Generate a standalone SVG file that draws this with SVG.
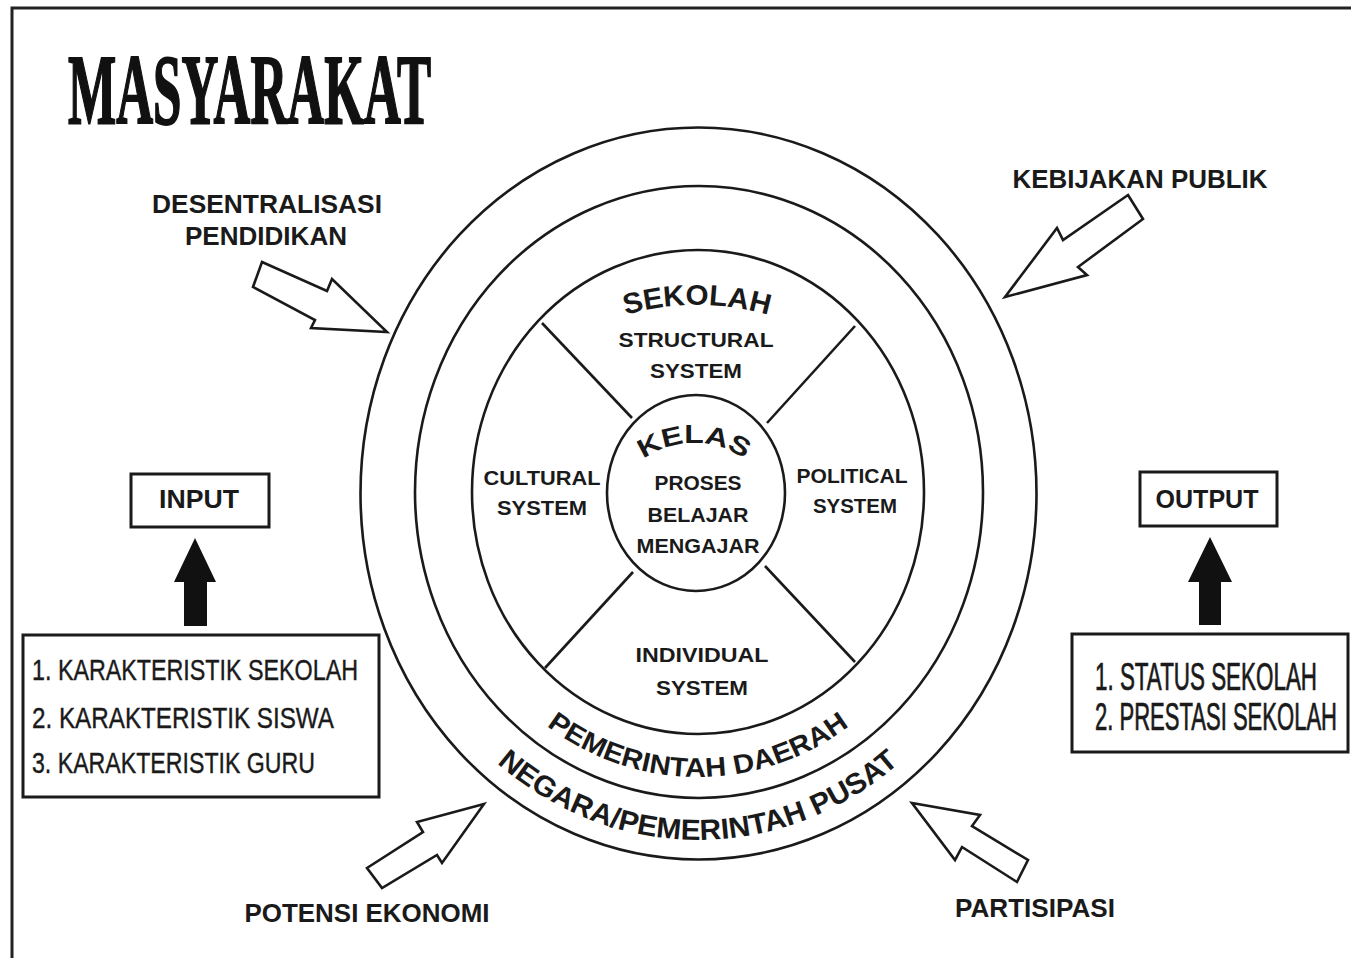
<svg xmlns="http://www.w3.org/2000/svg" width="1351" height="958" viewBox="0 0 1351 958">
  <style>
    .ring { fill: none; stroke: #1a1a1a; stroke-width: 2.6; }
    .div { stroke: #1a1a1a; stroke-width: 2.6; }
    .box { fill: #fff; stroke: #1a1a1a; stroke-width: 3; }
    .hollow { fill: #fff; stroke: #1a1a1a; stroke-width: 2.6; stroke-linejoin: miter; }
    .solid { fill: #111; stroke: none; }
    .lbl { font-family: "Liberation Sans", Arial, sans-serif; font-weight: bold; fill: #1a1a1a; }
    .lst { font-family: "Liberation Sans Narrow", "Liberation Sans", Arial, sans-serif; font-weight: normal; fill: #1a1a1a; stroke: #1a1a1a; stroke-width: 0.4; }
    .ttl { font-family: "Liberation Serif", "Times New Roman", serif; font-weight: bold; fill: #111; stroke: #111; stroke-width: 2; }
  </style>
  <defs>
    <path id="arcSekolah" d="M437,565 A260,260 0 0 1 957,565"/>
    <path id="arcKelas" d="M606,531 A88,88 0 0 1 782,531"/>
    <path id="arcDaerah" d="M433,492 A265,285 0 0 0 963,492"/>
    <path id="arcPusat" d="M377,492 A321,348 0 0 0 1019,492"/>
  </defs>

  <rect width="1351" height="958" fill="#fff"/>

  <!-- frame -->
  <path d="M12,958 V8 H1351" fill="none" stroke="#222" stroke-width="3"/>

  <!-- title -->
  <g id="title">
    <text class="ttl" x="68" y="123" font-size="100" textLength="363" lengthAdjust="spacingAndGlyphs">MASYARAKAT</text>
  </g>

  <!-- concentric system rings -->
  <g id="rings">
    <ellipse class="ring" cx="698.5" cy="493.5" rx="338" ry="366"/>
    <ellipse class="ring" cx="699" cy="492" rx="284" ry="306"/>
    <ellipse class="ring" cx="698" cy="492" rx="226" ry="242"/>
    <ellipse class="ring" cx="696" cy="493" rx="89" ry="98"/>
    <line class="div" x1="542" y1="323" x2="632" y2="418"/>
    <line class="div" x1="855" y1="326" x2="767" y2="423"/>
    <line class="div" x1="545" y1="668" x2="633" y2="572"/>
    <line class="div" x1="855" y1="662" x2="765" y2="566"/>
  </g>

  <g id="sekolah">
    <text class="lbl" font-size="29"><textPath href="#arcSekolah" startOffset="50%" text-anchor="middle" textLength="145" lengthAdjust="spacingAndGlyphs">SEKOLAH</textPath></text>
  </g>
  <g id="structural">
    <text class="lbl" x="696" y="347" font-size="20" text-anchor="middle" textLength="155" lengthAdjust="spacingAndGlyphs">STRUCTURAL</text>
    <text class="lbl" x="696" y="378" font-size="20" text-anchor="middle" textLength="92" lengthAdjust="spacingAndGlyphs">SYSTEM</text>
  </g>
  <g id="cultural">
    <text class="lbl" x="542" y="485" font-size="20" text-anchor="middle" textLength="117" lengthAdjust="spacingAndGlyphs">CULTURAL</text>
    <text class="lbl" x="542" y="515" font-size="20" text-anchor="middle" textLength="90" lengthAdjust="spacingAndGlyphs">SYSTEM</text>
  </g>
  <g id="political">
    <text class="lbl" x="852" y="483" font-size="20" text-anchor="middle" textLength="111" lengthAdjust="spacingAndGlyphs">POLITICAL</text>
    <text class="lbl" x="855" y="513" font-size="20" text-anchor="middle" textLength="84" lengthAdjust="spacingAndGlyphs">SYSTEM</text>
  </g>
  <g id="individual">
    <text class="lbl" x="702" y="662" font-size="20" text-anchor="middle" textLength="133" lengthAdjust="spacingAndGlyphs">INDIVIDUAL</text>
    <text class="lbl" x="702" y="695" font-size="20" text-anchor="middle" textLength="92" lengthAdjust="spacingAndGlyphs">SYSTEM</text>
  </g>
  <g id="kelas">
    <text class="lbl" font-size="26"><textPath href="#arcKelas" startOffset="50%" text-anchor="middle" textLength="108" lengthAdjust="spacingAndGlyphs">KELAS</textPath></text>
    <text class="lbl" x="698" y="490" font-size="20" text-anchor="middle" textLength="87" lengthAdjust="spacingAndGlyphs">PROSES</text>
    <text class="lbl" x="698" y="522" font-size="20" text-anchor="middle" textLength="101" lengthAdjust="spacingAndGlyphs">BELAJAR</text>
    <text class="lbl" x="698" y="553" font-size="20" text-anchor="middle" textLength="123" lengthAdjust="spacingAndGlyphs">MENGAJAR</text>
  </g>
  <g id="pemerintah-daerah">
    <text class="lbl" font-size="27"><textPath href="#arcDaerah" startOffset="50%" text-anchor="middle" textLength="325" lengthAdjust="spacingAndGlyphs">PEMERINTAH DAERAH</textPath></text>
  </g>
  <g id="pemerintah-pusat">
    <text class="lbl" font-size="29"><textPath href="#arcPusat" startOffset="50%" text-anchor="middle" textLength="440" lengthAdjust="spacingAndGlyphs">NEGARA/PEMERINTAH PUSAT</textPath></text>
  </g>

  <!-- external influences -->
  <g id="desentralisasi">
    <text class="lbl" x="267" y="213" font-size="26" text-anchor="middle" textLength="230" lengthAdjust="spacingAndGlyphs">DESENTRALISASI</text>
    <text class="lbl" x="266" y="245" font-size="26" text-anchor="middle" textLength="162" lengthAdjust="spacingAndGlyphs">PENDIDIKAN</text>
  </g>
  <g id="kebijakan">
    <text class="lbl" x="1140" y="188" font-size="25" text-anchor="middle" textLength="255" lengthAdjust="spacingAndGlyphs">KEBIJAKAN PUBLIK</text>
  </g>
  <g id="potensi">
    <text class="lbl" x="367" y="922" font-size="26" text-anchor="middle" textLength="245" lengthAdjust="spacingAndGlyphs">POTENSI EKONOMI</text>
  </g>
  <g id="partisipasi">
    <text class="lbl" x="1035" y="917" font-size="26" text-anchor="middle" textLength="160" lengthAdjust="spacingAndGlyphs">PARTISIPASI</text>
  </g>

  <g id="input">
    <rect class="box" x="131" y="474" width="138" height="53"/>
    <text class="lbl" x="199" y="508" font-size="25" text-anchor="middle" textLength="80" lengthAdjust="spacingAndGlyphs">INPUT</text>
  </g>
  <g id="input-list">
    <rect class="box" x="23" y="635" width="356" height="162"/>
    <text class="lst" x="32" y="680" font-size="30" textLength="326" lengthAdjust="spacingAndGlyphs">1. KARAKTERISTIK SEKOLAH</text>
    <text class="lst" x="32" y="728" font-size="30" textLength="302" lengthAdjust="spacingAndGlyphs">2. KARAKTERISTIK SISWA</text>
    <text class="lst" x="32" y="773" font-size="30" textLength="283" lengthAdjust="spacingAndGlyphs">3. KARAKTERISTIK GURU</text>
  </g>
  <g id="output">
    <rect class="box" x="1140" y="472" width="137" height="54"/>
    <text class="lbl" x="1207" y="508" font-size="25" text-anchor="middle" textLength="103" lengthAdjust="spacingAndGlyphs">OUTPUT</text>
  </g>
  <g id="output-list">
    <rect class="box" x="1072" y="634" width="276" height="118"/>
    <text class="lst" transform="translate(1095,690) scale(1,1.85)" font-size="21" textLength="222" lengthAdjust="spacingAndGlyphs">1. STATUS  SEKOLAH</text>
    <text class="lst" transform="translate(1095,730) scale(1,1.85)" font-size="21" textLength="242" lengthAdjust="spacingAndGlyphs">2. PRESTASI  SEKOLAH</text>
  </g>

  <!-- connectors -->
  <g id="connectors">
    <polygon class="hollow" points="262,262 327,291 332,279 387,332 311,328 315,320 253,287"/>
    <polygon class="hollow" points="1128,195 1143,219 1078,267 1087,275 1005,297 1057,228 1063,240"/>
    <polygon class="hollow" points="484,804 417,822 423,832 367,868 382,888 437,855 442,863"/>
    <polygon class="hollow" points="912,803 980,815 972,826 1028,860 1017,882 962,847 955,860"/>
    <polygon class="solid" points="195,538 216,582 207,582 207,626 184,626 184,582 174,582"/>
    <polygon class="solid" points="1210,537 1232,582 1221,582 1221,625 1199,625 1199,582 1188,582"/>
  </g>
</svg>
